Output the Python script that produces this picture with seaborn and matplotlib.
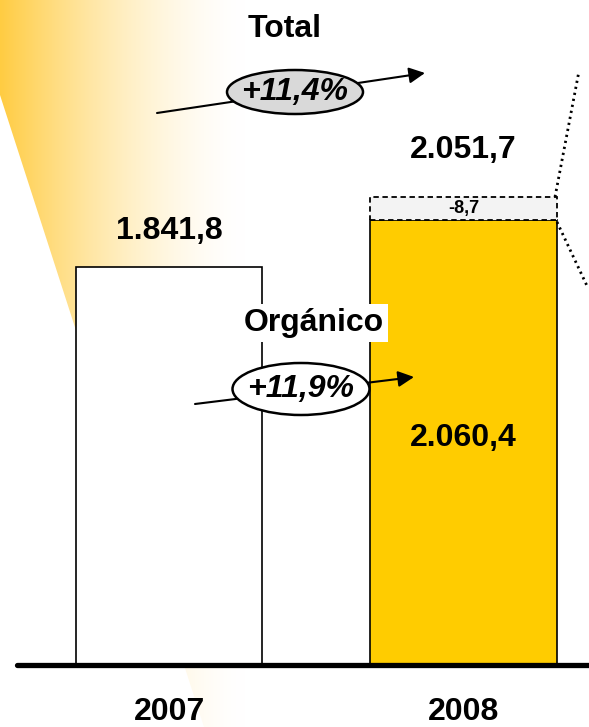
import numpy as np
import pandas as pd
import matplotlib
matplotlib.use("Agg")
import matplotlib.pyplot as plt
import seaborn as sns
from matplotlib.patches import Ellipse, Rectangle, Polygon

# datos
years = ["2007", "2008"]
sales = [1841.8, 2060.4]
reported_2008 = 2051.7
fx_effect = -8.7
bar_colors = ["#FFFFFF", "#FFCC00"]
growth_total = "+11,4%"
growth_organic = "+11,9%"

W, H = 589, 727

def px(x, y):
    # pixel -> fraccion de ejes (los ejes ocupan toda la figura)
    return (x / W, 1 - y / H)

def fmt(v):
    s = f"{v:,.1f}"
    return s.replace(",", "X").replace(".", ",").replace("X", ".")

sns.set_theme(style="white")
plt.rcParams["font.family"] = ["Liberation Sans", "DejaVu Sans"]
plt.rcParams["text.color"] = "black"

fig = plt.figure(figsize=(W / 100, H / 100), dpi=100)
ax = fig.add_axes([0, 0, 1, 1])

df = pd.DataFrame({"year": years, "sales": sales})
sns.barplot(data=df, x="year", y="sales", hue="year", palette=bar_colors,
            legend=False, width=0.632, edgecolor="black", linewidth=1.2,
            saturation=1, ax=ax, zorder=2)

scale = 398 / sales[0]            # px por unidad
ax.set_ylim(-(H - 665) / scale, 665 / scale)
ax.set_xlim(-0.574, 1.426)
ax.axis("off")

# haz degradado arriba a la izquierda
xs = np.linspace(0, W, 400)
f = np.clip(1 - xs / 245, 0, 1) ** 1.6
yellow = np.array([1.0, 0.80, 0.26])
grad = np.ones((2, 400, 3))
for c in range(3):
    grad[..., c] = 1 - (1 - yellow[c]) * f
im = ax.imshow(grad, extent=[0, 1, 0, 1], transform=ax.transAxes,
               aspect="auto", zorder=0, interpolation="bilinear")
beam = Polygon([px(0, 0), px(W, 0), px(W, H), px(204, H), px(0, 95)],
               closed=True, transform=ax.transAxes, facecolor="none",
               edgecolor="none")
ax.add_patch(beam)
im.set_clip_path(beam)

# linea base gruesa
ax.axhline(0, xmin=17 / W, xmax=1, color="black", lw=3.8,
           solid_capstyle="round", zorder=3)

# caja discontinua del efecto
bw = 0.632
box_h = 23 / scale
ax.add_patch(Rectangle((1 - bw / 2, sales[1]), bw, box_h, facecolor="#F3F3F3",
                       edgecolor="black", linestyle=(0, (3, 2)), lw=1.3, zorder=3))
ax.text(1, sales[1] + box_h / 2, fmt(fx_effect), ha="center", va="center",
        fontsize=13, fontweight="bold", zorder=4)

# lineas punteadas a la derecha
for (x0, y0), (x1, y1) in [((555, 197), (579, 71)), ((557, 222), (588, 288))]:
    a, b = px(x0, y0), px(x1, y1)
    ax.plot([a[0], b[0]], [a[1], b[1]], color="black", lw=2,
            linestyle=(0, (0.8, 1.4)), transform=ax.transAxes, zorder=3)

# etiquetas de valores
fs = 23
ax.text(0, sales[0] + 36 / scale, fmt(sales[0]), ha="center", va="center",
        fontsize=fs, fontweight="bold", zorder=4)
ax.text(1, sales[1] + 70 / scale, fmt(reported_2008), ha="center", va="center",
        fontsize=fs, fontweight="bold", zorder=4)
ax.text(1, sales[1] * 0.51, fmt(sales[1]), ha="center", va="center",
        fontsize=fs, fontweight="bold", zorder=4)

for i, yr in enumerate(years):
    ax.text(i, -(712 - 665) / scale, yr, ha="center", va="center",
            fontsize=fs, fontweight="bold", zorder=4)

# titulos de crecimiento
ax.text(*px(285, 29), "Total", transform=ax.transAxes, ha="center",
        va="center", fontsize=fs, fontweight="bold", zorder=4)
ax.text(*px(314, 323), "Orgánico", transform=ax.transAxes, ha="center",
        va="center", fontsize=fs, fontweight="bold", zorder=4,
        bbox=dict(boxstyle="square,pad=0.12", fc="white", ec="none"))

# flechas con elipses
def growth(label, start, end, center, size, fill):
    ax.annotate("", xy=px(*end), xytext=px(*start), xycoords="axes fraction",
                textcoords="axes fraction", zorder=5,
                arrowprops=dict(arrowstyle="-|>", color="black", lw=1.5,
                                mutation_scale=24, shrinkA=0, shrinkB=0))
    ax.add_patch(Ellipse(px(*center), size[0] / W, size[1] / H,
                         transform=ax.transAxes, facecolor=fill,
                         edgecolor="black", lw=1.8, zorder=6))
    ax.text(*px(*center), label, transform=ax.transAxes, ha="center",
            va="center", fontsize=fs, fontweight="bold", style="italic",
            zorder=7)

growth(growth_total, (157, 113), (425, 73), (295, 92), (136, 44), "#D9D9D9")
growth(growth_organic, (195, 404), (414, 377), (301, 389), (137, 52), "white")

plt.savefig("out.png", dpi=100)
